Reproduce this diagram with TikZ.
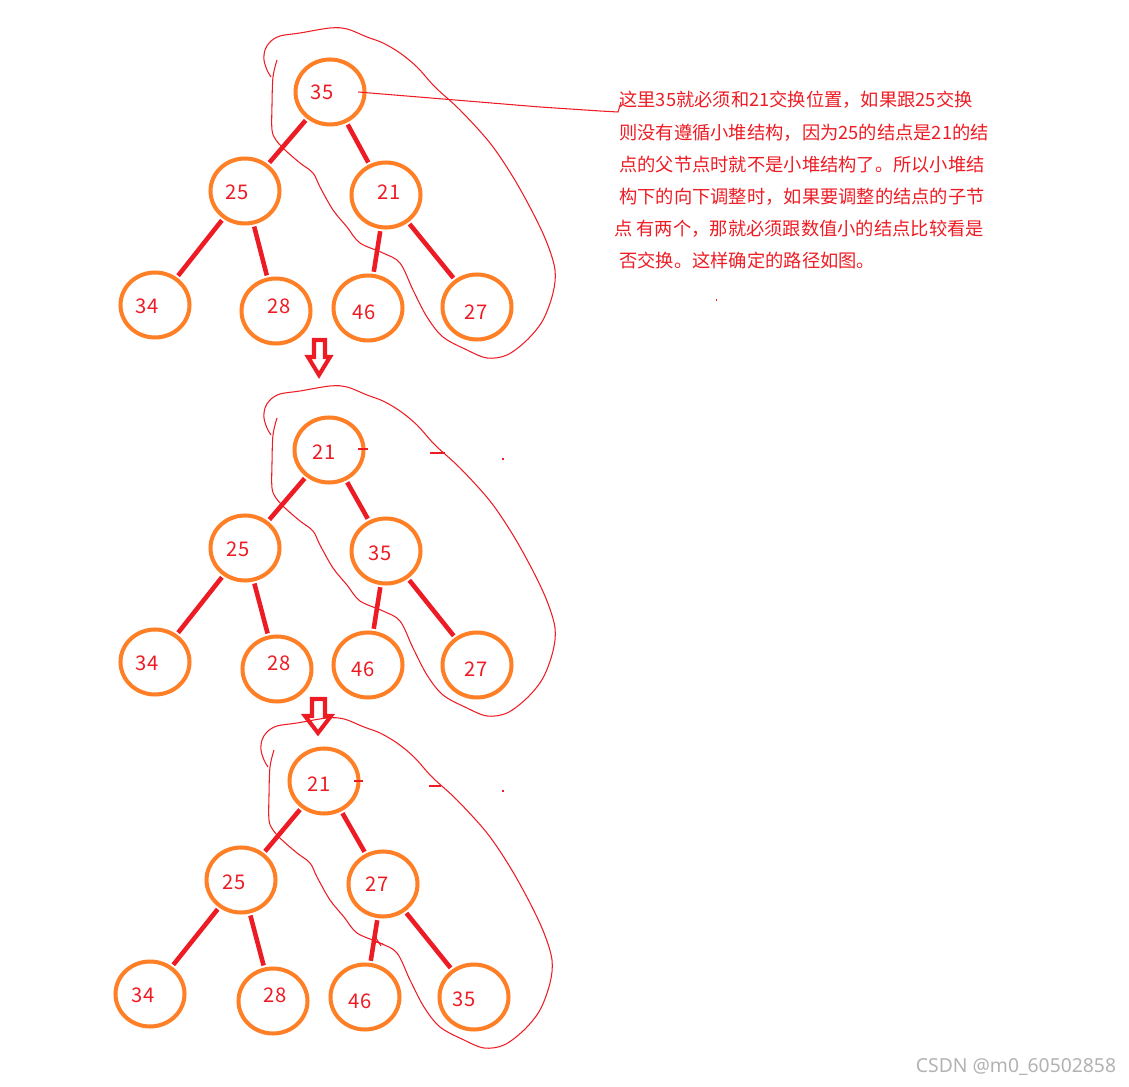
\documentclass[tikz,border=0pt]{standalone}
\usepackage{fontspec}
\newfontfamily\cjk{Noto Sans CJK SC}
\newfontfamily\markfont{Noto Sans}
\usetikzlibrary{shapes.geometric}

\definecolor{heaporange}{HTML}{FF7F27}
\definecolor{heapred}{HTML}{ED1C24}

% the hand drawn loop round the path that is adjusted
\newcommand{\heaploop}[1]{%
  \draw[pen, shift={#1}] plot[smooth, tension=0.55] coordinates {
    (277,60) (273,77) (272,105) (272,130) (276,140) (285,150) (300,163)
    (313,173) (320,187) (333,210) (347,227) (360,243) (383,253) (400,263)
    (413,290) (427,317) (443,337) (467,350) (487,358) (507,355) (527,340)
    (543,320) (553,293) (555,270) (547,243) (533,213) (513,177) (490,143)
    (460,110) (435,87) (417,67) (400,53) (383,43) (367,37) (347,29)
    (330,28) (300,33) (280,36) (270,42) (265,50) (264,60) (267,70) (271,77)};}

\begin{document}
\begin{tikzpicture}[
    x = 0.02cm, y = -0.02cm, % one unit is one pixel
    heap/.style = {draw = heaporange, ellipse, line width = 2.3pt,
        minimum width = 1.38cm, minimum height = 1.30cm, inner sep = 0pt},
    num/.style = {text = heapred, inner sep = 0pt,
        font = \cjk\fontsize{11.5pt}{12pt}\selectfont},
    link/.style = {draw = heapred, line width = 2.6pt,
        shorten < = 1.2pt, shorten > = 1.2pt},
    pen/.style = {draw = heapred, line width = 0.6pt},
    downarrow/.style = {draw = heapred, line width = 2.3pt, line join = miter},
    note/.style = {text = heapred, align = left, inner sep = 0pt,
        font = \cjk\fontsize{10.4pt}{18.3pt}\selectfont},
    ]
    \useasboundingbox (0,0) rectangle (1129,1087);

    % first tree
    \node[heap] (a35) at (330,92) {};
    \node[heap] (a25) at (245,191) {};
    \node[heap] (a21) at (386,195) {};
    \node[heap] (a34) at (155,305) {};
    \node[heap] (a28) at (276,311) {};
    \node[heap] (a46) at (368,308) {};
    \node[heap] (a27) at (477,307) {};
    \node[num] (ta35) at (322,92) {35};
    \node[num] (ta25) at (237,192) {25};
    \node[num] (ta21) at (389,192) {21};
    \node[num] (ta34) at (147,306) {34};
    \node[num] (ta28) at (279,306) {28};
    \node[num] (ta46) at (364,312) {46};
    \node[num] (ta27) at (476,312) {27};
    \draw[link] (a35) -- (a25);
    \draw[link] (a35) -- (a21);
    \draw[link] (a25) -- (a34);
    \draw[link] (a25) -- (a28);
    \draw[link] (a21) -- (a46);
    \draw[link] (a21) -- (a27);
    \heaploop{(0,0)}

    % second tree
    \node[heap] (b21) at (329,450) {};
    \node[heap] (b25) at (245,548) {};
    \node[heap] (b35) at (386,551) {};
    \node[heap] (b34) at (155,662) {};
    \node[heap] (b28) at (277,669) {};
    \node[heap] (b46) at (368,665) {};
    \node[heap] (b27) at (477,665) {};
    \node[num] (tb21) at (324,452) {21};
    \node[num] (tb25) at (238,549) {25};
    \node[num] (tb35) at (380,553) {35};
    \node[num] (tb34) at (147,663) {34};
    \node[num] (tb28) at (279,663) {28};
    \node[num] (tb46) at (363,669) {46};
    \node[num] (tb27) at (476,669) {27};
    \draw[link] (b21) -- (b25);
    \draw[link] (b21) -- (b35);
    \draw[link] (b25) -- (b34);
    \draw[link] (b25) -- (b28);
    \draw[link] (b35) -- (b46);
    \draw[link] (b35) -- (b27);
    \heaploop{(0,358)}
    \draw[pen] (358,449) -- (368,449);
    \draw[pen] (430,453) -- (445,453);
    \draw[pen] (502,459) -- (504,459);

    % third tree
    \node[heap] (c21) at (324,781) {};
    \node[heap] (c25) at (241,880) {};
    \node[heap] (c27) at (383,884) {};
    \node[heap] (c34) at (150,994) {};
    \node[heap] (c28) at (273,1001) {};
    \node[heap] (c46) at (365,997) {};
    \node[heap] (c35) at (474,997) {};
    \node[num] (tc21) at (319,784) {21};
    \node[num] (tc25) at (234,882) {25};
    \node[num] (tc27) at (377,884) {27};
    \node[num] (tc34) at (143,995) {34};
    \node[num] (tc28) at (275,995) {28};
    \node[num] (tc46) at (360,1001) {46};
    \node[num] (tc35) at (464,999) {35};
    \draw[link] (c21) -- (c25);
    \draw[link] (c21) -- (c27);
    \draw[link] (c25) -- (c34);
    \draw[link] (c25) -- (c28);
    \draw[link] (c27) -- (c46);
    \draw[link] (c27) -- (c35);
    \heaploop{(-3,690)}
    \draw[pen] (354,781) -- (363,781);
    \draw[pen] (429,786) -- (441,786);
    \draw[pen] (502,791) -- (504,791);
    \draw[pen] (372,941) -- (383,944);
    \draw[pen] (376,938) -- (381,946);

    % arrows between the trees
    \draw[downarrow] (314,340) -- (325,340) -- (325,357) -- (330,357)
        -- (319,375) -- (308,357) -- (314,357) -- cycle;
    \draw[downarrow] (312,699) -- (325,699) -- (325,716) -- (331,716)
        -- (318,733) -- (305,716) -- (312,716) -- cycle;

    % the note and its line
    \node[note, anchor = north west] (why) at (619,91)
        {这里35就必须和21交换位置，如果跟25交换\\
         则没有遵循小堆结构，因为25的结点是21的结\\
         点的父节点时就不是小堆结构了。所以小堆结\\
         构下的向下调整时，如果要调整的结点的子节\\
         \hspace*{-0.1cm}点 有两个，那就必须跟数值小的结点比较看是\\
         否交换。这样确定的路径如图。};
    \coordinate (from35) at (358,92);
    \coordinate (tonote) at (621,102);
    \draw[pen] (from35) -- (540,107) -- (600,111) -- (618,112) -- (tonote);
    \draw[pen] (716,300) -- (717,300);

    \node[text = gray!60, font = \markfont\fontsize{11pt}{13pt}\selectfont]
        (csdn) at (1016,1067) {CSDN @m0\_60502858};
\end{tikzpicture}
\end{document}
